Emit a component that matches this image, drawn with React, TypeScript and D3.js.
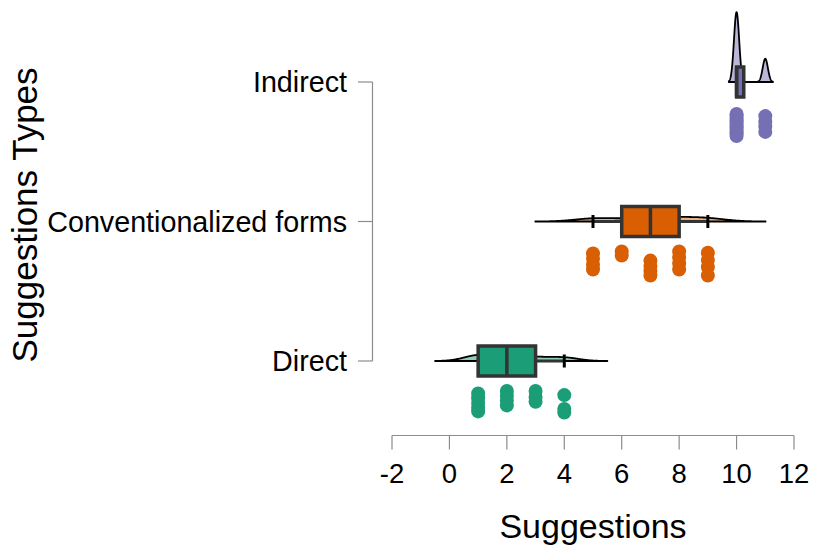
import React from "react";
import * as d3 from "d3";

const categories = ["Indirect", "Conventionalized forms", "Direct"];
const colors = ["#7570b3", "#d95f02", "#1b9e77"];

// raw observations per category (read from the dot strips)
const indirectValues = [10, 10, 10, 10, 10, 10, 10, 10, 10, 10, 10, 10, 11, 11, 11, 11];
const indirectJitter = [0.08, 0.17, 0.25, 0.33, 0.42, 0.5, 0.58, 0.67, 0.75, 0.83, 0.92, 1.0, 0.17, 0.4, 0.6, 0.83];

const conventionalValues = [5, 5, 5, 5, 6, 6, 7, 7, 7, 7, 8, 8, 8, 8, 9, 9, 9, 9];
const conventionalJitter = [0.08, 0.3, 0.55, 0.75, 0.0, 0.17, 0.38, 0.6, 0.8, 1.0, 0.0, 0.25, 0.5, 0.75, 0.05, 0.35, 0.65, 1.0];

const directValues = [1, 1, 1, 1, 1, 2, 2, 2, 2, 3, 3, 3, 4, 4, 4];
const directJitter = [0.1, 0.3, 0.5, 0.7, 0.85, 0.0, 0.2, 0.4, 0.6, 0.0, 0.25, 0.45, 0.17, 0.75, 0.9];

const bandwidths = [0.09, 0.67, 0.5];

const xTicks = [-2, 0, 2, 4, 6, 8, 10, 12];

const groups = [
  { values: indirectValues, jitter: indirectJitter },
  { values: conventionalValues, jitter: conventionalJitter },
  { values: directValues, jitter: directJitter },
];

function quantile7(sorted: number[], p: number) {
  const h = (sorted.length - 1) * p;
  const lo = Math.floor(h);
  const hi = Math.ceil(h);
  return sorted[lo] + (h - lo) * (sorted[hi] - sorted[lo]);
}

function kde(values: number[], bw: number) {
  const mn = d3.min(values)! - 3 * bw;
  const mx = d3.max(values)! + 3 * bw;
  const n = 300;
  const pts: [number, number][] = [];
  for (let i = 0; i <= n; i++) {
    const x = mn + ((mx - mn) * i) / n;
    let s = 0;
    for (const v of values) {
      const z = (x - v) / bw;
      s += Math.exp(-0.5 * z * z);
    }
    pts.push([x, s / (values.length * bw * Math.sqrt(2 * Math.PI))]);
  }
  return pts;
}

export default function App() {
  const W = 813;
  const H = 548;
  const x = d3.scaleLinear().domain([-2, 12]).range([392, 794]);
  const y = d3.scalePoint<string>().domain(categories).range([82, 361]);
  const densityPx = 21;
  const boxH = 30;
  const capH = 13;
  const dark = "#333333";
  const axisColor = "#8c8c8c";
  const font = "'Liberation Sans', Arial, sans-serif";

  return (
    <svg width={W} height={H} style={{ position: "absolute", left: 0, top: 0 }} fontFamily={font}>
      <rect width={W} height={H} fill="#fff" />
      {/* y axis */}
      <line x1={372.5} x2={372.5} y1={y(categories[0])} y2={y(categories[2])} stroke={axisColor} strokeWidth={1.2} />
      {categories.map((c) => (
        <g key={c}>
          <line x1={358} x2={372.5} y1={y(c)} y2={y(c)} stroke={axisColor} strokeWidth={1.2} />
          <text x={347} y={y(c)! + 10} textAnchor="end" fontSize={28.7} fill="#000">
            {c}
          </text>
        </g>
      ))}
      {/* x axis */}
      <line x1={x(-2)} x2={x(12)} y1={435.5} y2={435.5} stroke={axisColor} strokeWidth={1.2} />
      {xTicks.map((t) => (
        <g key={t}>
          <line x1={x(t)} x2={x(t)} y1={435.5} y2={449.5} stroke={axisColor} strokeWidth={1.2} />
          <text x={x(t)} y={483} textAnchor="middle" fontSize={27.5} fill="#000">
            {String(t)}
          </text>
        </g>
      ))}
      <text x={593} y={538} textAnchor="middle" fontSize={34} fill="#000">
        Suggestions
      </text>
      <text transform={`translate(37,215) rotate(-90)`} textAnchor="middle" fontSize={35} fill="#000">
        Suggestions Types
      </text>

      {groups.map((g, i) => {
        const cy = y(categories[i])!;
        const col = colors[i];
        const dens = kde(g.values, bandwidths[i]);
        const area = d3
          .area<[number, number]>()
          .x((d) => x(d[0]))
          .y0(cy)
          .y1((d) => cy - d[1] * densityPx)
          .curve(d3.curveLinear);
        const sorted = [...g.values].sort((a, b) => a - b);
        const q1 = quantile7(sorted, 0.25);
        const med = quantile7(sorted, 0.5);
        const q3 = quantile7(sorted, 0.75);
        const iqr = q3 - q1;
        const lowW = d3.min(sorted.filter((v) => v >= q1 - 1.5 * iqr))!;
        const highW = d3.max(sorted.filter((v) => v <= q3 + 1.5 * iqr))!;
        return (
          <g key={i}>
            <path d={area(dens)! + "Z"} fill={col} fillOpacity={0.5} stroke="#000" strokeWidth={1.8} strokeLinejoin="round" />
            {/* whiskers */}
            <line x1={x(lowW)} x2={x(q1)} y1={cy} y2={cy} stroke={dark} strokeWidth={3} />
            <line x1={x(q3)} x2={x(highW)} y1={cy} y2={cy} stroke={dark} strokeWidth={3} />
            {lowW < q1 && <line x1={x(lowW)} x2={x(lowW)} y1={cy - capH / 2} y2={cy + capH / 2} stroke="#000" strokeWidth={3} />}
            {highW > q3 && <line x1={x(highW)} x2={x(highW)} y1={cy - capH / 2} y2={cy + capH / 2} stroke="#000" strokeWidth={3} />}
            <rect x={x(q1)} y={cy - boxH / 2} width={Math.max(x(q3) - x(q1), 0)} height={boxH} fill={col} stroke={dark} strokeWidth={3.5} />
            <line x1={x(med)} x2={x(med)} y1={cy - boxH / 2} y2={cy + boxH / 2} stroke={dark} strokeWidth={3.5} />
            {g.values.map((v, k) => (
              <circle key={k} cx={x(v)} cy={cy + 30 + g.jitter[k] * 24} r={7} fill={col} />
            ))}
          </g>
        );
      })}
    </svg>
  );
}
